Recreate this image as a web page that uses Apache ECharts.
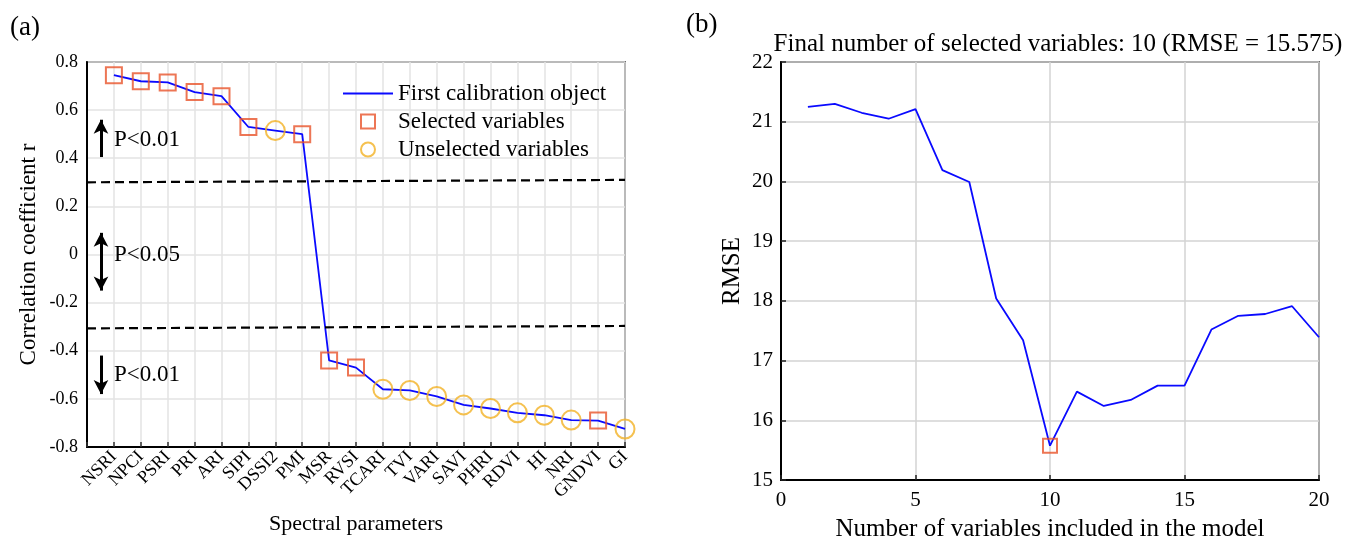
<!DOCTYPE html>
<html>
<head>
<meta charset="utf-8">
<script src="https://cdn.jsdelivr.net/npm/echarts@6/dist/echarts.min.js"></script>
<style>
  html, body { margin: 0; padding: 0; background: #fff; }
  #chart { width: 1364px; height: 548px; }
</style>
</head>
<body>
<div id="chart"></div>
<script>
// panel (a): correlation of each spectral parameter
var params = ["NSRI", "NPCI", "PSRI", "PRI", "ARI", "SIPI", "DSSI2", "PMI", "MSR", "RVSI",
  "TCARI", "TVI", "VARI", "SAVI", "PHRI", "RDVI", "HI", "NRI", "GNDVI", "GI"];
var corrR = [0.745, 0.72, 0.715, 0.675, 0.658, 0.53, 0.515, 0.50, -0.44, -0.47,
  -0.56, -0.565, -0.59, -0.625, -0.64, -0.658, -0.668, -0.688, -0.69, -0.725];
var selected = [1, 1, 1, 1, 1, 1, 0, 1, 1, 1, 0, 0, 0, 0, 0, 0, 0, 0, 1, 0];

// panel (b): RMSE against number of variables
var nVars = [1, 2, 3, 4, 5, 6, 7, 8, 9, 10, 11, 12, 13, 14, 15, 16, 17, 18, 19, 20];
var rmse = [21.25, 21.30, 21.15, 21.05, 21.21, 20.19, 19.99, 18.04, 17.34, 15.575,
  16.48, 16.24, 16.34, 16.58, 16.58, 17.52, 17.75, 17.78, 17.91, 17.39];
var bestN = 10;

var font = "Liberation Serif";
var blue = "#0a0aff";
var red = "#e8542a";
var yellow = "#f2b124";

var lineA = [], selA = [], unselA = [];
for (var i = 0; i < params.length; i++) {
  lineA.push([i + 1, corrR[i]]);
  if (selected[i]) selA.push([i + 1, corrR[i]]);
  else unselA.push([i + 1, corrR[i]]);
}
var lineB = nVars.map(function (n, i) { return [n, rmse[i]]; });

var chart = echarts.init(document.getElementById("chart"));

var arrowStyle = { color: "#000", width: 3, type: "solid" };
function pLabel(x, y, txt) {
  return {
    coord: [x, y], symbol: "rect", symbolSize: 0,
    label: { show: true, position: "right", distance: 0, formatter: txt,
      color: "#000", fontFamily: font, fontSize: 23 }
  };
}

chart.setOption({
  animation: false,
  textStyle: { fontFamily: font },
  title: [
    { text: "(a)", left: 5, top: 9, textStyle: { fontFamily: font, fontSize: 27, fontWeight: "normal", color: "#000" } },
    { text: "(b)", left: 681, top: 6, textStyle: { fontFamily: font, fontSize: 27, fontWeight: "normal", color: "#000" } },
    { text: "Final number of selected variables: 10 (RMSE = 15.575)", left: 1053, top: 27, textAlign: "center",
      textStyle: { fontFamily: font, fontSize: 25, fontWeight: "normal", color: "#000" } }
  ],
  legend: {
    left: 343, top: 82, padding: 0, orient: "vertical", itemWidth: 50, itemHeight: 14, itemGap: 5,
    symbolKeepAspect: true,
    textStyle: { fontFamily: font, fontSize: 23, color: "#000" },
    data: [
      { name: "First calibration object", icon: "path://M0,0H50V1.8H0Z" },
      { name: "Selected variables", icon: "path://M0,0H12V12H0Z" },
      { name: "Unselected variables", icon: "circle" }
    ]
  },
  grid: [
    { left: 87, top: 62, width: 538, height: 385, show: true, borderColor: "#000", borderWidth: 1.5 },
    { left: 781, top: 62, width: 538, height: 418, show: true, borderColor: "#000", borderWidth: 1.5 }
  ],
  xAxis: [
    {
      gridIndex: 0, type: "value", min: 0, max: 20, interval: 1,
      name: "Spectral parameters", nameLocation: "middle", nameGap: 66,
      nameTextStyle: { fontFamily: font, fontSize: 22, color: "#000" },
      axisLine: { onZero: false, lineStyle: { color: "#000", width: 2 } },
      axisTick: { inside: true, length: 5, lineStyle: { color: "#333", width: 1.5 } },
      splitLine: { lineStyle: { color: "#e3e3e3", width: 1.5 } },
      axisLabel: {
        rotate: 45, margin: 7, fontFamily: font, fontSize: 18, color: "#000",
        formatter: function (v) { return params[v - 1] || ""; }
      }
    },
    {
      gridIndex: 1, type: "value", min: 0, max: 20, interval: 5,
      name: "Number of variables included in the model", nameLocation: "middle", nameGap: 37,
      nameTextStyle: { fontFamily: font, fontSize: 25, color: "#000" },
      axisLine: { onZero: false, lineStyle: { color: "#000", width: 2 } },
      axisTick: { inside: true, length: 5, lineStyle: { color: "#222", width: 1.5 } },
      splitLine: { lineStyle: { color: "#d3d3d3", width: 1.5 } },
      axisLabel: { margin: 10, fontFamily: font, fontSize: 21, color: "#000" }
    }
  ],
  yAxis: [
    {
      gridIndex: 0, type: "value", min: -0.8, max: 0.8, interval: 0.2,
      name: "Correlation coefficient r", nameLocation: "middle", nameGap: 47,
      nameTextStyle: { fontFamily: font, fontSize: 23, color: "#000" },
      axisLine: { onZero: false, lineStyle: { color: "#000", width: 2 } },
      axisTick: { show: false },
      splitLine: { lineStyle: { color: "#e3e3e3", width: 1.5 } },
      axisLabel: {
        margin: 9, fontFamily: font, fontSize: 18, color: "#000",
        formatter: function (v) { return Math.abs(v) < 1e-9 ? "0" : String(+v.toFixed(1)); }
      }
    },
    {
      gridIndex: 1, type: "value", min: 15, max: 22, interval: 1,
      name: "RMSE", nameLocation: "middle", nameGap: 36,
      nameTextStyle: { fontFamily: font, fontSize: 25, color: "#000" },
      axisLine: { onZero: false, lineStyle: { color: "#000", width: 2 } },
      axisTick: { inside: true, length: 5, lineStyle: { color: "#222", width: 1.5 } },
      splitLine: { lineStyle: { color: "#d3d3d3", width: 1.5 } },
      axisLabel: { margin: 8, fontFamily: font, fontSize: 21, color: "#000" }
    }
  ],
  series: [
    {
      name: "First calibration object", type: "line", xAxisIndex: 0, yAxisIndex: 0,
      data: lineA, showSymbol: false, symbol: "none",
      lineStyle: { color: blue, width: 1.8 }, itemStyle: { color: blue },
      markLine: {
        silent: true, animation: false, label: { show: false },
        data: [
          [{ coord: [0, 0.30], symbol: "none", lineStyle: { color: "#000", width: 2.2, type: [9, 5] } },
           { coord: [20, 0.31], symbol: "none" }],
          [{ coord: [0, -0.307], symbol: "none", lineStyle: { color: "#000", width: 2.2, type: [9, 5] } },
           { coord: [20, -0.297], symbol: "none" }],
          [{ coord: [0.52, 0.405], symbol: "none", lineStyle: arrowStyle },
           { coord: [0.52, 0.56], symbol: "arrow", symbolSize: [11, 14] }],
          [{ coord: [0.52, 0.09], symbol: "arrow", symbolSize: [11, 14], lineStyle: arrowStyle },
           { coord: [0.52, -0.15], symbol: "arrow", symbolSize: [11, 14] }],
          [{ coord: [0.52, -0.42], symbol: "none", lineStyle: arrowStyle },
           { coord: [0.52, -0.58], symbol: "arrow", symbolSize: [11, 14] }]
        ]
      },
      markPoint: {
        silent: true, animation: false,
        data: [pLabel(1.0, 0.475, "P<0.01"), pLabel(1.0, 0.0, "P<0.05"), pLabel(1.0, -0.5, "P<0.01")]
      }
    },
    {
      name: "Selected variables", type: "scatter", xAxisIndex: 0, yAxisIndex: 0,
      data: selA, symbol: "rect", symbolSize: 16, z: 3,
      itemStyle: { color: "rgba(0,0,0,0)", borderColor: red, borderWidth: 2 }
    },
    {
      name: "Unselected variables", type: "scatter", xAxisIndex: 0, yAxisIndex: 0,
      data: unselA, symbol: "circle", symbolSize: 19, z: 3,
      itemStyle: { color: "rgba(0,0,0,0)", borderColor: yellow, borderWidth: 2 }
    },
    {
      name: "RMSE curve", type: "line", xAxisIndex: 1, yAxisIndex: 1,
      data: lineB, showSymbol: false, symbol: "none",
      lineStyle: { color: blue, width: 1.8 }
    },
    {
      name: "Best", type: "scatter", xAxisIndex: 1, yAxisIndex: 1,
      data: [[bestN, rmse[bestN - 1]]], symbol: "rect", symbolSize: 14, z: 3,
      itemStyle: { color: "rgba(0,0,0,0)", borderColor: red, borderWidth: 2 }
    }
  ]
});
</script>
</body>
</html>
